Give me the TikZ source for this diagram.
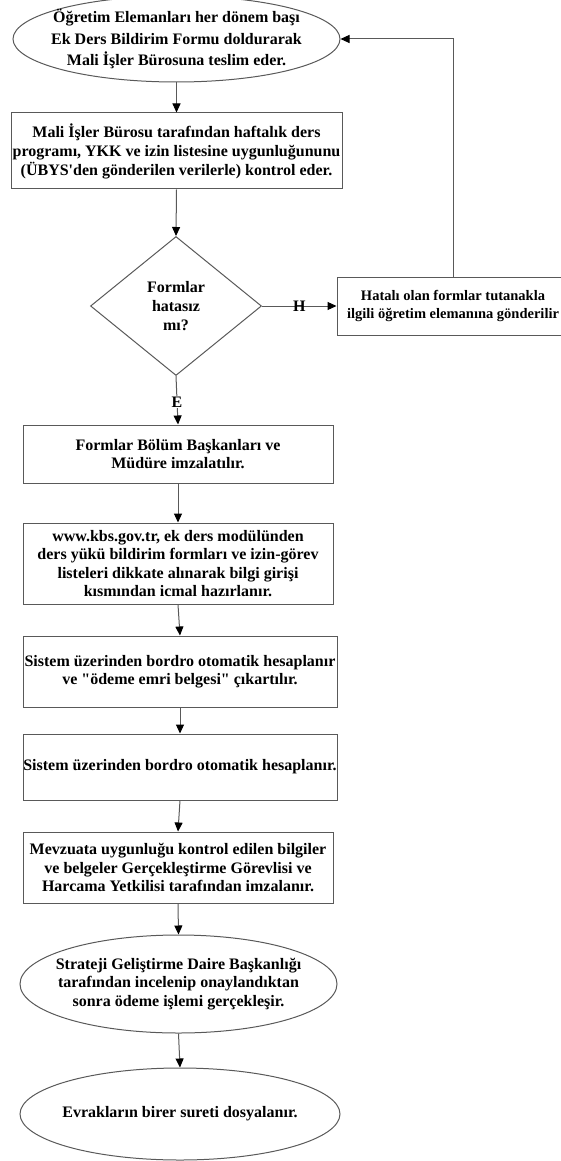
\documentclass[tikz,border=0pt]{standalone}
\usepackage{fontspec}
\setmainfont{Liberation Serif}
\usetikzlibrary{positioning, shapes.geometric, arrows.meta}

\begin{document}
\begin{tikzpicture}[x=1pt, y=-1pt,
  every node/.style={font=\fontsize{16}{19}\selectfont\bfseries, align=center, text=black},
  flowline/.style={draw=black!65, line width=1pt},
  flowarrow/.style={flowline, -{Triangle[width=8pt, length=9pt, color=black]}},
  termnode/.style={ellipse, draw=black!65, line width=1pt, inner xsep=-30pt, inner ysep=0pt},
  procbox/.style={rectangle, draw=black!65, line width=1pt, inner sep=0pt},
  decnode/.style={diamond, draw=black!65, line width=1pt, inner sep=0pt}]

\useasboundingbox (0,0) rectangle (561,1161);

% Start: forms handed to the office
\node[termnode, minimum width=327pt, minimum height=86pt, font=\fontsize{16}{21.5}\selectfont\bfseries] (start) at (176.5,39)
  {Öğretim Elemanları her dönem başı\\ Ek Ders Bildirim Formu doldurarak\\ Mali İşler Bürosuna teslim eder.};

% Office checks the forms
\node[procbox, minimum width=331pt, minimum height=76pt] (review) at (176.5,151)
  {Mali İşler Bürosu tarafından haftalık ders\\ programı, YKK ve izin listesine uygunluğununu\\ (ÜBYS\textquotesingle den gönderilen verilerle) kontrol eder.};

% Decision
\node[decnode, minimum width=171pt, minimum height=139pt] (check) at (176,306) {Formlar\\ hatasız\\ mı?};

% Faulty forms go back
\node[procbox, minimum width=232pt, minimum height=58pt, font=\fontsize{14.5}{18}\selectfont\bfseries] (fail) at (453,306)
  {Hatalı olan formlar tutanakla\\ ilgili öğretim elemanına gönderilir};

% Signatures
\node[procbox, minimum width=310pt, minimum height=58pt, font=\fontsize{16}{18}\selectfont\bfseries] (sign) at (178,454)
  {Formlar Bölüm Başkanları ve\\ Müdüre imzalatılır.};

% KBS entry
\node[procbox, minimum width=310pt, minimum height=81pt, font=\fontsize{16}{18.5}\selectfont\bfseries] (icmal) at (178,563.5)
  {www.kbs.gov.tr, ek ders modülünden\\ ders yükü bildirim formları ve izin-görev\\ listeleri dikkate alınarak bilgi girişi\\ kısmından icmal hazırlanır.};

% Payroll with payment order
\node[procbox, minimum width=314pt, minimum height=71pt, font=\fontsize{16}{18}\selectfont\bfseries] (bordro) at (180,671.5)
  {Sistem üzerinden bordro otomatik hesaplanır\\ ve \textquotedbl ödeme emri belgesi\textquotedbl{} çıkartılır.};

% Payroll
\node[procbox, minimum width=314pt, minimum height=66pt] (payroll) at (180,767)
  {Sistem üzerinden bordro otomatik hesaplanır.};

% Approval
\node[procbox, minimum width=310pt, minimum height=71pt, font=\fontsize{16}{18.5}\selectfont\bfseries] (approve) at (178,867.5)
  {Mevzuata uygunluğu kontrol edilen bilgiler\\ ve belgeler Gerçekleştirme Görevlisi ve\\ Harcama Yetkilisi tarafından imzalanır.};

% Strategy department
\node[termnode, minimum width=317pt, minimum height=98pt, font=\fontsize{16}{18.5}\selectfont\bfseries] (sgdb) at (178.5,984)
  {Strateji Geliştirme Daire Başkanlığı\\ tarafından incelenip onaylandıktan\\ sonra ödeme işlemi gerçekleşir.};

% End: archive
\node[termnode, minimum width=320pt, minimum height=92pt] (archive) at (180,1114)
  {Evrakların birer sureti dosyalanır.};

% Connectors
\draw[flowarrow] (start.south) -- (review.north);
\draw[flowarrow] (review.south) -- (check.north);
\draw[flowarrow] (check.east) -- node[inner sep=0pt]{H} (fail.west);
\draw[flowarrow] (fail.north) |- (start.east);
\draw[flowarrow] (check.south) -- node[fill=white, inner sep=1pt, pos=0.54]{E} (sign.north);
\draw[flowarrow] (sign.south) -- (icmal.north);
\draw[flowarrow] (icmal.south) -- (bordro.north);
\draw[flowarrow] (bordro.south) -- (payroll.north);
\draw[flowarrow] (payroll.south) -- (approve.north);
\draw[flowarrow] (approve.south) -- (sgdb.north);
\draw[flowarrow] (sgdb.south) -- (archive.north);
\end{tikzpicture}
\end{document}
